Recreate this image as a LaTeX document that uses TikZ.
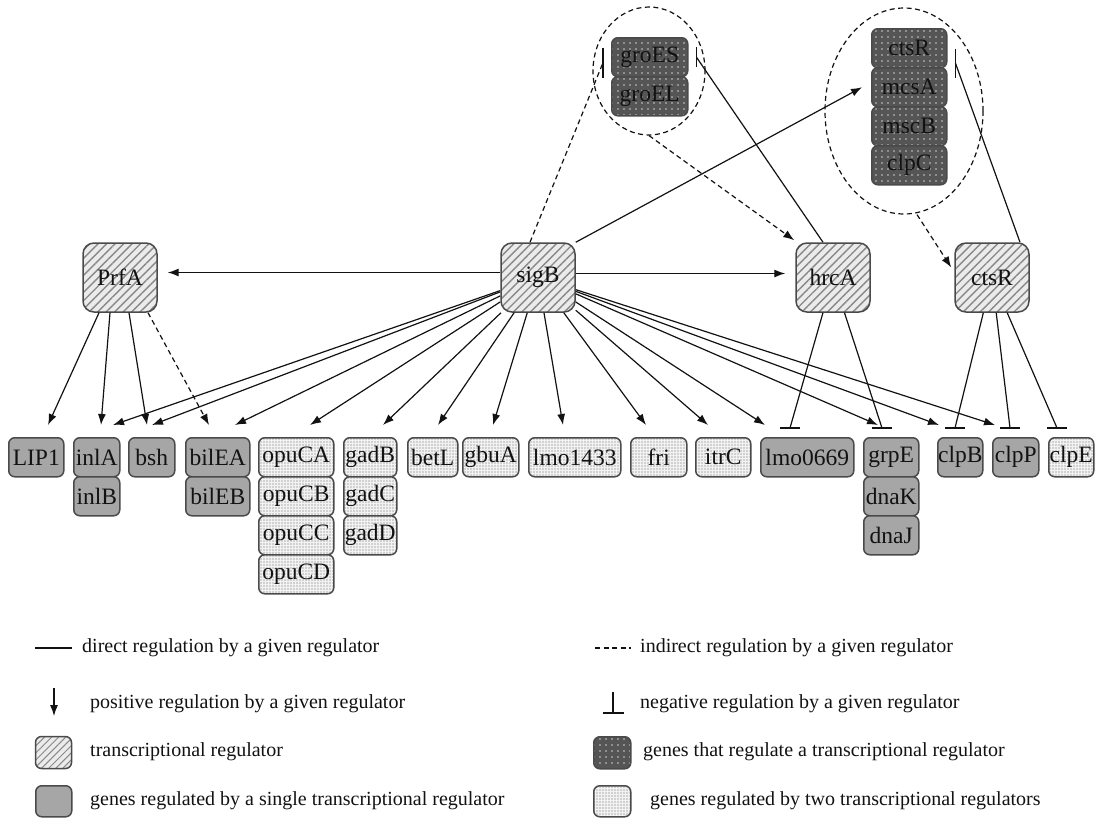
\documentclass[tikz,border=0pt]{standalone}
\usepackage{fontspec}
\setmainfont{Liberation Serif}
\usetikzlibrary{arrows.meta,patterns.meta,shapes.geometric,calc}
\definecolor{bord}{HTML}{4A4A4A}
\definecolor{greyf}{HTML}{A6A6A6}
\definecolor{darkf}{HTML}{555555}
\definecolor{lightf}{HTML}{F2F2F2}
\definecolor{regf}{HTML}{EBEBEB}
\definecolor{hatchc}{HTML}{888888}
\definecolor{ink}{HTML}{121212}
\newcommand\genefont{\fontsize{23.5pt}{23.5pt}\selectfont}
\newcommand\legfont{\fontsize{20pt}{20pt}\selectfont}
\tikzset{
 base/.style={draw=bord, line width=1.5pt, rounded corners=6pt, inner sep=0pt,
   minimum height=39pt, anchor=north west, font=\genefont, text=ink},
 single/.style={base, fill=greyf},
 twice/.style={base, preaction={fill=lightf},
   pattern={Dots[distance=3pt,radius=0.65pt]}, pattern color=black!60},
 upreg/.style={base, preaction={fill=darkf},
   pattern={Dots[distance=6pt,radius=0.8pt]}, pattern color=white!80!black},
 regbox/.style={draw=bord, line width=1.5pt, rounded corners=11pt, inner sep=0pt,
   minimum width=74pt, minimum height=69pt, preaction={fill=regf},
   pattern={Lines[angle=45,distance=6pt,line width=1.4pt]}, pattern color=hatchc,
   font=\genefont, text=ink},
 conn/.style={line width=1.2pt, draw=ink},
 posarr/.style={conn, -{Latex[length=11pt,width=8pt]}},
 ind/.style={dash pattern=on 5pt off 3.5pt},
 circ/.style={draw=ink, line width=1.2pt, ind, ellipse, inner sep=0pt},
 leg/.style={anchor=west, inner sep=0pt, font=\legfont, text=ink},
}
\begin{document}
\begin{tikzpicture}[x=1pt,y=-1pt]
\useasboundingbox[fill=white] (0,0) rectangle (1103,817);

% circles
\node[circ, minimum width=112pt, minimum height=128pt] (c1) at (649,71) {};
\node[circ, minimum width=158pt, minimum height=206pt] (c2) at (904,111) {};

% genes that regulate a transcriptional regulator
\node[upreg, minimum width=76pt] (groES) at (611,37) {groES};
\node[upreg, minimum width=76pt] (groEL) at (611,76) {groEL};
\node[upreg, minimum width=75pt] (ctsRg) at (871,28) {ctsR};
\node[upreg, minimum width=75pt] (mcsA) at (871,67) {mcsA};
\node[upreg, minimum width=75pt] (mscB) at (871,106) {mscB};
\node[upreg, minimum width=75pt] (clpC) at (871,145) {clpC};

% regulators
\node[regbox] (PrfA) at (120,277.5) {PrfA};
\node[regbox] (sigB) at (538,277.5) {sigB};
\node[regbox] (hrcA) at (833,277.5) {hrcA};
\node[regbox] (ctsR) at (992,277.5) {ctsR};

% gene row
\node[single, minimum width=55pt] (LIP1) at (8,437) {LIP1};
\node[single, minimum width=46pt] (inlA) at (73,437) {inlA};
\node[single, minimum width=46pt] (inlB) at (73,476) {inlB};
\node[single, minimum width=46pt] (bsh) at (128,437) {bsh};
\node[single, minimum width=64pt] (bilEA) at (185,437) {bilEA};
\node[single, minimum width=64pt] (bilEB) at (185,476) {bilEB};
\node[twice, minimum width=75pt] (opuCA) at (258,437) {opuCA};
\node[twice, minimum width=75pt] (opuCB) at (258,476) {opuCB};
\node[twice, minimum width=75pt] (opuCC) at (258,515) {opuCC};
\node[twice, minimum width=75pt] (opuCD) at (258,554) {opuCD};
\node[twice, minimum width=53pt] (gadB) at (343,437) {gadB};
\node[twice, minimum width=53pt] (gadC) at (343,476) {gadC};
\node[twice, minimum width=53pt] (gadD) at (343,515) {gadD};
\node[twice, minimum width=50pt] (betL) at (407,437) {betL};
\node[twice, minimum width=56pt] (gbuA) at (462,437) {gbuA};
\node[twice, minimum width=92pt] (lmoA) at (528,437) {lmo1433};
\node[twice, minimum width=56pt] (fri) at (630,437) {fri};
\node[twice, minimum width=55pt] (itrC) at (695,437) {itrC};
\node[single, minimum width=93pt] (lmoB) at (760,437) {lmo0669};
\node[single, minimum width=55pt] (grpE) at (863,437) {grpE};
\node[single, minimum width=55pt] (dnaK) at (863,476) {dnaK};
\node[single, minimum width=55pt] (dnaJ) at (863,515) {dnaJ};
\node[single, minimum width=45pt] (clpB) at (937,437) {clpB};
\node[single, minimum width=46pt] (clpP) at (992,437) {clpP};
\node[twice, minimum width=45pt] (clpE) at (1048,437) {clpE};

% free ends of connectors
\coordinate (aLIP1) at (48,425);
\coordinate (aInlAp) at (101,425);
\coordinate (aBshp) at (147,425);
\coordinate (aBilp) at (209,425);
\coordinate (aInlAs) at (113,425);
\coordinate (aBshs) at (152,425);
\coordinate (aBils) at (235,425);
\coordinate (aOpu) at (310,425);
\coordinate (aGad) at (383,425);
\coordinate (aBet) at (438,425);
\coordinate (aGbu) at (493,425);
\coordinate (aLmoA) at (563,425);
\coordinate (aFri) at (646,425);
\coordinate (aItr) at (708,425);
\coordinate (aLmoB) at (765,425);
\coordinate (aGrp) at (878,425);
\coordinate (aClpB) at (939,425);
\coordinate (aClpP) at (995,425);
\coordinate (bLmoB) at (790,428);
\coordinate (bGrp) at (882,428);
\coordinate (bClpB) at (955,428);
\coordinate (bClpP) at (1010,428);
\coordinate (bClpE) at (1057,428);
\coordinate (gL) at ([xshift=-8pt,yshift=-5.5pt]groES.west);
\coordinate (gR) at ([xshift=8pt]groES.east);
\coordinate (cR) at ([xshift=8pt,yshift=-15pt]ctsRg.east);

% PrfA
\draw[posarr] ([xshift=-21pt]PrfA.south) -- (aLIP1);
\draw[posarr] ([xshift=-10pt]PrfA.south) -- (aInlAp);
\draw[posarr] ([xshift=9pt]PrfA.south) -- (aBshp);
\draw[posarr,ind] ([xshift=28pt]PrfA.south) -- (aBilp);

% sigB
\foreach \t in {aInlAs,aBshs,aBils,aOpu,aGad,aBet,aGbu,aLmoA,aFri,aItr,aLmoB,aGrp,aClpB,aClpP}
  \draw[posarr] (sigB) -- (\t);
\draw[posarr] ([yshift=5pt]sigB.west) -- ([xshift=10pt,yshift=5pt]PrfA.east);
\draw[posarr] ([yshift=4pt]sigB.east) -- ([xshift=-10pt,yshift=4pt]hrcA.west);
\draw[posarr] (sigB.north east) -- ([xshift=-9pt]mcsA.west);
\draw[conn,ind] ([xshift=-8pt]sigB.north) -- (gL);
\draw[conn] ([yshift=15pt]gL) -- ([yshift=-15pt]gL);

% hrcA
\draw[conn] ([xshift=-10pt]hrcA.north) -- (gR);
\draw[conn] ([yshift=10pt]gR) -- ([yshift=-10pt]gR);
\draw[posarr,ind] (c1.south) -- ([xshift=-1pt,yshift=2pt]hrcA.north west);
\draw[conn] (hrcA) -- (bLmoB);
\draw[conn] (hrcA) -- (bGrp);

% ctsR
\draw[conn] ([xshift=28pt]ctsR.north) -- (cR);
\draw[conn] ([yshift=14.5pt]cR) -- ([yshift=-14.5pt]cR);
\draw[posarr,ind] ([xshift=13pt]c2.south) -- ([xshift=-3pt,yshift=10pt]ctsR.west);
\draw[conn] (ctsR) -- (bClpB);
\draw[conn] (ctsR) -- (bClpP);
\draw[conn] (ctsR) -- (bClpE);

\foreach \c in {bLmoB,bGrp,bClpB,bClpP,bClpE}
  \draw[conn] ([xshift=-10pt]\c) -- ([xshift=10pt]\c);

% legend
\coordinate (l1a) at (35,648); \coordinate (l1b) at (72,648);
\draw[conn] (l1a) -- (l1b);
\node[leg] (t1) at (82,648) {direct regulation by a given regulator};
\coordinate (r1a) at (595,648); \coordinate (r1b) at (631,648);
\draw[conn,ind] (r1a) -- (r1b);
\node[leg] (u1) at (640,648) {indirect regulation by a given regulator};

\coordinate (l2a) at (54,688); \coordinate (l2b) at (54,716);
\draw[posarr] (l2a) -- (l2b);
\node[leg] (t2) at (90,704) {positive regulation by a given regulator};
\coordinate (r2a) at (613,692); \coordinate (r2b) at (613,713);
\draw[conn] (r2a) -- (r2b);
\draw[conn] ([xshift=-10.5pt]r2b) -- ([xshift=10.5pt]r2b);
\node[leg] (u2) at (640,704) {negative regulation by a given regulator};

\node[regbox, rounded corners=6pt, minimum width=36pt, minimum height=32pt,
  pattern={Lines[angle=45,distance=5pt,line width=1pt]}, anchor=north west] (k1) at (35,736) {};
\node[leg] (t3) at (90,752) {transcriptional regulator};
\node[upreg, minimum width=37pt, minimum height=32pt] (k2) at (593,736) {};
\node[leg] (u3) at (643,752) {genes that regulate a transcriptional regulator};

\node[single, minimum width=36pt, minimum height=31pt] (k3) at (35,785) {};
\node[leg] (t4) at (90,801) {genes regulated by a single transcriptional regulator};
\node[twice, minimum width=37pt, minimum height=31pt] (k4) at (593,785) {};
\node[leg] (u4) at (650,801) {genes regulated by two transcriptional regulators};
\end{tikzpicture}
\end{document}
